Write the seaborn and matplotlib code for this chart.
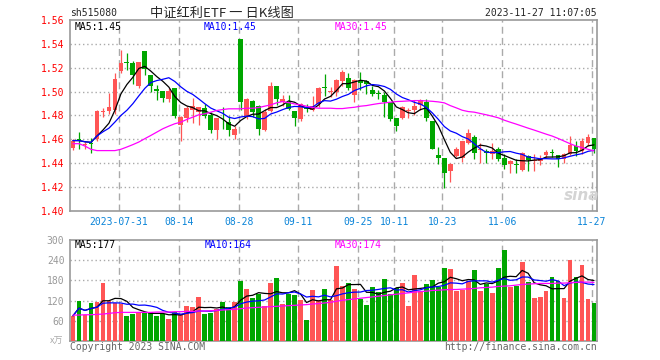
import numpy as np
import pandas as pd
import seaborn as sns
import matplotlib
matplotlib.use("Agg")
import matplotlib.pyplot as plt

# daily candles 2023-07-19 .. 2023-11-27
open_ = [1.4530, 1.4600, 1.4550, 1.4570, 1.4600, 1.4830, 1.4840, 1.4850, 1.5172, 1.5242,
         1.5242, 1.5050, 1.5339, 1.5139, 1.5022, 1.5006, 1.4939, 1.5031, 1.4717, 1.4778,
         1.4842, 1.4833, 1.4864, 1.4806, 1.4675, 1.4736, 1.4744, 1.4633, 1.5439, 1.4794,
         1.4922, 1.4878, 1.4675, 1.4839, 1.5044, 1.4917, 1.4917, 1.4839, 1.4772, 1.4869,
         1.4842, 1.4894, 1.5031, 1.5000, 1.5000, 1.5092, 1.5117, 1.4975, 1.5089, 1.5092,
         1.5017, 1.4986, 1.4975, 1.4917, 1.4775, 1.4775, 1.4839, 1.4842, 1.4889, 1.4917,
         1.4756, 1.4467, 1.4442, 1.4333, 1.4461, 1.4444, 1.4572, 1.4617, 1.4511, 1.4503,
         1.4475, 1.4517, 1.4442, 1.4392, 1.4386, 1.4342, 1.4461, 1.4422, 1.4417, 1.4467,
         1.4486, 1.4467, 1.4433, 1.4475, 1.4544, 1.4500, 1.4569, 1.4611]
high = [1.4600, 1.4660, 1.4580, 1.4610, 1.4850, 1.4860, 1.4990, 1.5160, 1.5347, 1.5322,
        1.5256, 1.5250, 1.5340, 1.5140, 1.5056, 1.5006, 1.5028, 1.5031, 1.4794, 1.4883,
        1.4947, 1.4875, 1.4897, 1.4828, 1.4783, 1.4869, 1.4794, 1.4708, 1.5444, 1.4947,
        1.4933, 1.4886, 1.4856, 1.5083, 1.5044, 1.4972, 1.4972, 1.4839, 1.4906, 1.4897,
        1.4967, 1.5039, 1.5147, 1.5036, 1.5105, 1.5183, 1.5156, 1.5106, 1.5167, 1.5094,
        1.5050, 1.5017, 1.5000, 1.4917, 1.4778, 1.4878, 1.4867, 1.4933, 1.4939, 1.4939,
        1.4756, 1.4539, 1.4442, 1.4406, 1.4539, 1.4586, 1.4683, 1.4633, 1.4572, 1.4517,
        1.4572, 1.4539, 1.4475, 1.4425, 1.4433, 1.4494, 1.4467, 1.4475, 1.4467, 1.4511,
        1.4517, 1.4467, 1.4489, 1.4628, 1.4583, 1.4611, 1.4644, 1.4611]
low = [1.4510, 1.4520, 1.4520, 1.4490, 1.4590, 1.4790, 1.4810, 1.4810, 1.5160, 1.5183,
       1.5064, 1.5028, 1.5142, 1.4994, 1.4933, 1.4917, 1.4911, 1.4778, 1.4583, 1.4744,
       1.4739, 1.4717, 1.4775, 1.4656, 1.4606, 1.4689, 1.4628, 1.4606, 1.4842, 1.4767,
       1.4786, 1.4633, 1.4672, 1.4828, 1.4889, 1.4883, 1.4842, 1.4708, 1.4758, 1.4828,
       1.4836, 1.4869, 1.4967, 1.4953, 1.4967, 1.5050, 1.5017, 1.4917, 1.5017, 1.4983,
       1.4967, 1.4939, 1.4789, 1.4750, 1.4672, 1.4767, 1.4775, 1.4808, 1.4850, 1.4756,
       1.4517, 1.4392, 1.4194, 1.4239, 1.4456, 1.4411, 1.4558, 1.4433, 1.4406, 1.4406,
       1.4433, 1.4417, 1.4350, 1.4317, 1.4317, 1.4333, 1.4333, 1.4333, 1.4383, 1.4444,
       1.4450, 1.4372, 1.4406, 1.4467, 1.4461, 1.4475, 1.4544, 1.4489]
close = [1.4590, 1.4590, 1.4560, 1.4560, 1.4840, 1.4840, 1.4875, 1.5106, 1.5242, 1.5236,
         1.5142, 1.5247, 1.5189, 1.5044, 1.5006, 1.4947, 1.5006, 1.4794, 1.4789, 1.4864,
         1.4878, 1.4872, 1.4794, 1.4675, 1.4778, 1.4733, 1.4675, 1.4689, 1.4917, 1.4939,
         1.4833, 1.4683, 1.4833, 1.5044, 1.4939, 1.4939, 1.4856, 1.4778, 1.4894, 1.4856,
         1.4878, 1.5033, 1.5028, 1.5006, 1.5100, 1.5167, 1.5033, 1.5100, 1.5075, 1.5067,
         1.4983, 1.4983, 1.4917, 1.4767, 1.4708, 1.4872, 1.4850, 1.4883, 1.4933, 1.4783,
         1.4522, 1.4444, 1.4317, 1.4392, 1.4522, 1.4586, 1.4650, 1.4483, 1.4519, 1.4483,
         1.4503, 1.4433, 1.4389, 1.4417, 1.4383, 1.4483, 1.4425, 1.4425, 1.4433, 1.4494,
         1.4483, 1.4433, 1.4475, 1.4550, 1.4503, 1.4583, 1.4617, 1.4517]
volume = [75, 120, 78, 113, 116, 171, 120, 113, 110, 75,
          80, 86, 83, 86, 75, 80, 65, 86, 80, 104,
          101, 131, 80, 83, 95, 116, 101, 116, 179, 155,
          128, 140, 105, 173, 188, 110, 140, 137, 122, 62,
          152, 122, 155, 122, 224, 164, 173, 155, 125, 107,
          161, 146, 185, 140, 158, 173, 104, 197, 149, 170,
          182, 161, 218, 215, 149, 152, 179, 212, 149, 170,
          143, 218, 269, 161, 164, 236, 176, 128, 131, 149,
          191, 179, 128, 242, 191, 227, 125, 113]
# 30-day averages as drawn (they need history from before the window)
ma30_price = [1.4564, 1.4564, 1.4544, 1.4517, 1.4506, 1.4506, 1.4506, 1.4506, 1.4517, 1.4536,
              1.4556, 1.4578, 1.4606, 1.4633, 1.4661, 1.4689, 1.4711, 1.4731, 1.4744, 1.4767,
              1.4786, 1.4806, 1.4814, 1.4828, 1.4842, 1.4850, 1.4856, 1.4856, 1.4856, 1.4861,
              1.4861, 1.4867, 1.4878, 1.4889, 1.4906, 1.4917, 1.4908, 1.4897, 1.4889, 1.4878,
              1.4867, 1.4861, 1.4861, 1.4861, 1.4858, 1.4858, 1.4864, 1.4869, 1.4878, 1.4883,
              1.4892, 1.4900, 1.4906, 1.4911, 1.4917, 1.4919, 1.4922, 1.4925, 1.4925, 1.4922,
              1.4919, 1.4914, 1.4906, 1.4883, 1.4864, 1.4844, 1.4833, 1.4828, 1.4817, 1.4806,
              1.4794, 1.4781, 1.4761, 1.4744, 1.4728, 1.4711, 1.4694, 1.4678, 1.4661, 1.4644,
              1.4628, 1.4608, 1.4586, 1.4564, 1.4544, 1.4531, 1.4517, 1.4503]
ma30_vol = [77, 77, 78, 78, 79, 80, 82, 84, 85, 85,
            85, 85, 85, 85, 86, 86, 86, 87, 87, 88,
            88, 89, 89, 90, 91, 92, 93, 94, 96, 98,
            99, 100, 101, 102, 103, 104, 105, 106, 107, 108,
            110, 111, 113, 115, 118, 121, 123, 125, 127, 129,
            131, 133, 135, 137, 139, 141, 143, 145, 147, 148,
            150, 151, 152, 153, 153, 154, 155, 156, 158, 159,
            160, 162, 163, 164, 166, 168, 169, 170, 171, 171,
            171, 172, 172, 173, 174, 175, 175, 174]

date_ticks = [8, 18, 28, 38, 48, 54, 62, 72, 87]
date_labels = ["2023-07-31", "08-14", "08-28", "09-11", "09-25", "10-11", "10-23", "11-06", "11-27"]
price_ticks = [1.40, 1.42, 1.44, 1.46, 1.48, 1.50, 1.52, 1.54, 1.56]
vol_ticks = [60, 120, 180, 240, 300]

price_legend = ["MA5:1.45", "MA10:1.45", "MA30:1.45"]
vol_legend = ["MA5:177", "MA10:164", "MA30:174"]

RED = "#ff5555"
GREEN = "#00a600"
GRID = "#aaaaaa"
MA_COLORS = ["black", "#0000ff", "#ff00ff"]

df = pd.DataFrame({"open": open_, "high": high, "low": low, "close": close,
                   "volume": volume, "ma30": ma30_price, "vma30": ma30_vol})
df["k"] = np.arange(len(df))
df["dir"] = np.where(df["close"] >= df["open"], "up", "down")
df["ma5"] = df["close"].rolling(5, min_periods=1).mean()
df["ma10"] = df["close"].rolling(10, min_periods=1).mean()
df["vma5"] = df["volume"].rolling(5, min_periods=1).mean()
df["vma10"] = df["volume"].rolling(10, min_periods=1).mean()

sns.set_style("white")
plt.rcParams["font.family"] = ["DejaVu Sans Mono", "Noto Sans CJK SC"]

fig = plt.figure(figsize=(6.6, 3.6), dpi=100)
W, H = 660, 360
ax1 = fig.add_axes([70 / W, 1 - 211 / H, 527 / W, 191 / H])
ax2 = fig.add_axes([70 / W, 1 - 341 / H, 527 / W, 101 / H])

# candles
cols = np.where(df["dir"] == "up", RED, GREEN)
body_lo = df[["open", "close"]].min(axis=1)
body_h = (df["close"] - df["open"]).abs().clip(lower=0.0008)
ax1.vlines(df["k"], df["low"], df["high"], colors=cols, lw=0.9, zorder=3)
ax1.bar(df["k"], body_h, bottom=body_lo, width=0.8, color=cols, lw=0, zorder=3)
for col, c in zip(["ma5", "ma10", "ma30"], MA_COLORS):
    sns.lineplot(x=df["k"], y=df[col], ax=ax1, color=c, lw=0.9, errorbar=None, zorder=4)

# volume bars
ax2.bar(df["k"], df["volume"], width=0.8, color=cols, lw=0, zorder=3)
for col, c in zip(["vma5", "vma10", "vma30"], MA_COLORS):
    sns.lineplot(x=df["k"], y=df[col], ax=ax2, color=c, lw=0.9, errorbar=None, zorder=4)

for ax in (ax1, ax2):
    ax.set_xlim(-0.5, len(df) - 0.5)
    ax.set_xlabel("")
    ax.set_ylabel("")
    for s in ax.spines.values():
        s.set_color("#999999")
        s.set_linewidth(1.2)
    for t in date_ticks:
        ax.axvline(t - 0.35, color=GRID, lw=1, dashes=(5, 3), zorder=1)
    ax.tick_params(length=0, labelsize=7, pad=4)

ax1.set_ylim(1.40, 1.56)
ax1.set_yticks(price_ticks)
ax1.set_yticklabels([f"{v:.2f}" for v in price_ticks], color="red")
for v in price_ticks[1:-1]:
    ax1.axhline(v, color=GRID, lw=1, dashes=(1, 2), zorder=1)
ax1.set_xticks([t - 0.35 for t in date_ticks])
ax1.set_xticklabels(date_labels, color="#0a84d8")

ax2.set_ylim(0, 300)
ax2.set_yticks(vol_ticks)
ax2.set_yticklabels([str(v) for v in vol_ticks], color="#999999")
for v in vol_ticks[:-1]:
    ax2.axhline(v, color=GRID, lw=1, dashes=(1, 2), zorder=1)
ax2.set_xticks([])


def px(x, y, s, size=7, **kw):
    fig.text(x / W, 1 - y / H, s, va="center", fontsize=size, **kw)


px(70, 13, "sh515080")
px(150, 13, "中证红利ETF 一 日K线图", size=9.5, family=["Noto Sans CJK SC", "DejaVu Sans"])
px(597, 13, "2023-11-27 11:07:05", ha="right")
for x, s, c in zip([75, 204, 335], price_legend, MA_COLORS):
    px(x, 27, s, color=c)
for x, s, c in zip([75, 205, 335], vol_legend, MA_COLORS):
    px(x, 245, s, color=c)
px(63, 341, "x万", size=6.5, ha="right", color="#aaaaaa", family=["Noto Sans CJK SC"])
px(70, 347, "Copyright 2023 SINA.COM", color="#666666")
px(597, 347, "http://finance.sina.com.cn", ha="right", color="#666666")
px(582, 196, "sina", size=11, ha="center", color="#d4d4d4", fontweight="bold",
   style="italic", family=["DejaVu Sans"])

fig.savefig("out.png", dpi=100)
